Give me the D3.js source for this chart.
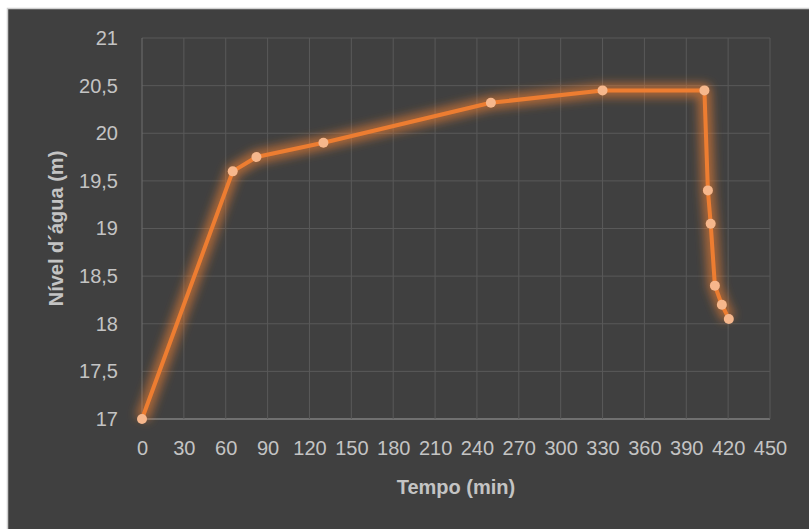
<!DOCTYPE html>
<html>
<head>
<meta charset="utf-8">
<script src="https://cdn.jsdelivr.net/npm/d3@7"></script>
<style>
  html, body { margin: 0; padding: 0; background: #ffffff; }
  svg { display: block; }
</style>
</head>
<body>
<svg id="chart" width="809" height="529"></svg>
<script>
// dados
const tempo = [0, 65, 82, 130, 250, 330, 403, 405.5, 407.5, 410.5, 415.5, 420.5];
const nivel = [17, 19.6, 19.75, 19.9, 20.32, 20.45, 20.45, 19.4, 19.05, 18.4, 18.2, 18.05];
const xTicks = [0, 30, 60, 90, 120, 150, 180, 210, 240, 270, 300, 330, 360, 390, 420, 450];
const yTicks = [17, 17.5, 18, 18.5, 19, 19.5, 20, 20.5, 21];

const width = 809;
const height = 529;
const margin = { top: 38, left: 142, bottom: 110, right: 39 };
const iwidth = width - margin.left - margin.right;
const iheight = height - margin.top - margin.bottom;

const svg = d3.select("#chart");

// fundo escuro com borda clara
svg.append("rect")
  .attr("x", 7.5).attr("y", 8.5)
  .attr("width", width).attr("height", height)
  .attr("fill", "#404040")
  .attr("stroke", "#d0d0d0")
  .attr("stroke-width", 1.5);

const defs = svg.append("defs");
const glow = defs.append("filter").attr("id", "glow")
  .attr("x", "-20%").attr("y", "-20%").attr("width", "140%").attr("height", "140%");
glow.append("feGaussianBlur").attr("stdDeviation", 5);

const g = svg.append("g").attr("transform", `translate(${margin.left},${margin.top})`);

const x = d3.scaleLinear().domain([0, 450]).range([0, iwidth]);
const y = d3.scaleLinear().domain([17, 21]).range([iheight, 0]);

const fmt = d => String(d).replace(".", ",");

// grade
g.append("g")
  .selectAll("line.h")
  .data(yTicks)
  .enter().append("line")
  .attr("x1", 0).attr("x2", iwidth)
  .attr("y1", d => y(d)).attr("y2", d => y(d))
  .attr("stroke", d => d === 17 ? "#808080" : "#595959")
  .attr("stroke-width", d => d === 17 ? 1.5 : 1);

g.append("g")
  .selectAll("line.v")
  .data(xTicks)
  .enter().append("line")
  .attr("y1", 0).attr("y2", iheight)
  .attr("x1", d => x(d)).attr("x2", d => x(d))
  .attr("stroke", d => d === 0 ? "#6e6e6e" : "#595959")
  .attr("stroke-width", 1);

// eixos (apenas rótulos)
const xAxis = g.append("g")
  .attr("transform", `translate(0, ${iheight})`)
  .call(d3.axisBottom(x).tickValues(xTicks).tickSize(0).tickPadding(22).tickFormat(d3.format("d")));
xAxis.select(".domain").remove();
xAxis.selectAll("text")
  .attr("fill", "#c4c4c4")
  .style("font-family", "Liberation Sans, Arial, sans-serif")
  .style("font-size", "20px");

const yAxis = g.append("g")
  .call(d3.axisLeft(y).tickValues(yTicks).tickSize(0).tickPadding(24).tickFormat(fmt));
yAxis.select(".domain").remove();
yAxis.selectAll("text")
  .attr("fill", "#c4c4c4")
  .style("font-family", "Liberation Sans, Arial, sans-serif")
  .style("font-size", "20px");

// série
const pts = tempo.map((t, i) => ({ t: t, n: nivel[i] }));
const line = d3.line().x(d => x(d.t)).y(d => y(d.n));

g.append("path")
  .datum(pts)
  .attr("d", line)
  .attr("fill", "none")
  .attr("stroke", "#f08030")
  .attr("stroke-opacity", 0.6)
  .attr("stroke-width", 14)
  .attr("stroke-linejoin", "round")
  .attr("filter", "url(#glow)");

g.append("path")
  .datum(pts)
  .attr("d", line)
  .attr("fill", "none")
  .attr("stroke", "#ed7d31")
  .attr("stroke-width", 4)
  .attr("stroke-linejoin", "round");

g.selectAll("circle")
  .data(pts)
  .enter().append("circle")
  .attr("cx", d => x(d.t))
  .attr("cy", d => y(d.n))
  .attr("r", 5)
  .attr("fill", "#f6b78c");

// títulos
svg.append("text")
  .attr("x", margin.left + iwidth / 2)
  .attr("y", 494)
  .attr("text-anchor", "middle")
  .attr("fill", "#c4c4c4")
  .style("font-family", "Liberation Sans, Arial, sans-serif")
  .style("font-size", "20px")
  .style("font-weight", "bold")
  .text("Tempo (min)");

svg.append("text")
  .attr("transform", `translate(63, ${margin.top + iheight / 2}) rotate(-90)`)
  .attr("text-anchor", "middle")
  .attr("fill", "#c4c4c4")
  .style("font-family", "Liberation Sans, Arial, sans-serif")
  .style("font-size", "20px")
  .style("font-weight", "bold")
  .text("Nível d´água (m)");
</script>
</body>
</html>
